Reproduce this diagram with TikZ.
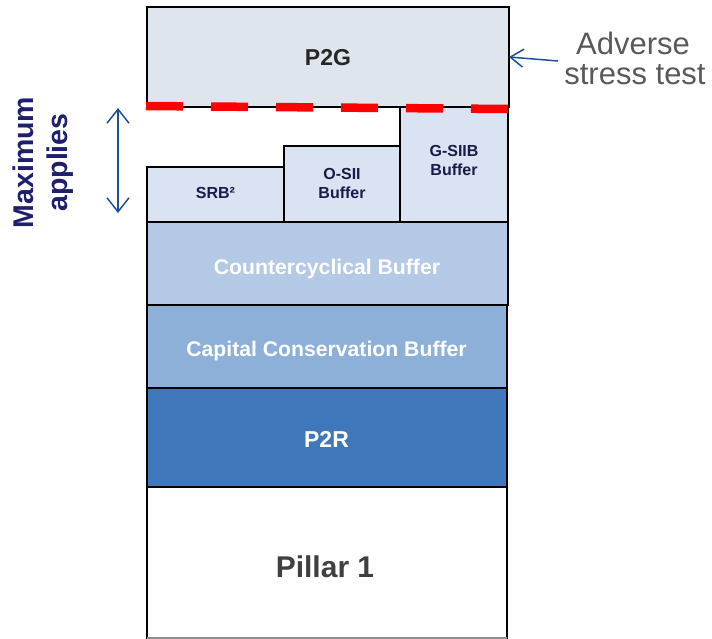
\documentclass[tikz,border=0pt]{standalone}
\usepackage{fontspec}
\setmainfont{Liberation Sans}
\usetikzlibrary{arrows.meta}
\definecolor{cPtwoG}{HTML}{DEE5ED}
\definecolor{cSmall}{HTML}{D9E3F1}
\definecolor{cCCyB}{HTML}{B3C9E5}
\definecolor{cCCB}{HTML}{8DB0D8}
\definecolor{cPtwoR}{HTML}{4077BA}
\definecolor{cDark}{HTML}{262626}
\definecolor{cPone}{HTML}{404040}
\definecolor{cNavy}{HTML}{1B1B4B}
\definecolor{cMax}{HTML}{1F1F6E}
\definecolor{cArr}{HTML}{1F4E9F}
\definecolor{cGrayT}{HTML}{595959}
\begin{document}
\begin{tikzpicture}[x=1pt,y=-1pt,
  layer/.style={draw=black, line width=1.8pt, inner sep=0pt, outer sep=0pt, anchor=north west},
  lbl/.style={anchor=base, inner sep=0pt, outer sep=0pt},
  wlbl/.style={lbl, text=white, font=\bfseries\fontsize{21.2}{25}\selectfont},
  slbl/.style={lbl, text=cNavy, font=\bfseries\fontsize{16}{19}\selectfont},
  blbl/.style={lbl, font=\bfseries\fontsize{23}{27}\selectfont},
  maxlbl/.style={lbl, rotate=90, text=cMax, font=\bfseries\fontsize{28.5}{32}\selectfont},
  advlbl/.style={lbl, text=cGrayT, font=\fontsize{31}{35}\selectfont},
  arr/.style={draw=cArr, line width=1.5pt}
]
\useasboundingbox (0,0) rectangle (712,639);

% layers
\node[layer, fill=cPtwoG, minimum width=362pt, minimum height=100pt] (p2g) at (147,7) {};
\node[layer, fill=cSmall, minimum width=137pt, minimum height=55pt] (srb) at (147,167) {};
\node[layer, fill=cSmall, minimum width=116pt, minimum height=76pt] (osii) at (284,146) {};
\node[layer, fill=cSmall, minimum width=108pt, minimum height=115pt] (gsiib) at (400,107) {};
\node[layer, fill=cCCyB, minimum width=361pt, minimum height=83pt] (ccyb) at (147,222) {};
\node[layer, fill=cCCB, minimum width=360pt, minimum height=83pt] (ccb) at (147,305) {};
\node[layer, fill=cPtwoR, minimum width=360pt, minimum height=99pt] (p2r) at (147,388) {};
\node[layer, fill=white, minimum width=360pt, minimum height=151pt] (p1) at (147,487) {};
\draw[black!45, line width=1.8pt] (p1.south west) -- (p1.south east);

% red dashed line
\coordinate (rl) at (146,106);
\coordinate (rr) at (508,109);
\draw[red, line width=8.5pt, dash pattern=on 37pt off 28pt] (rl) -- (rr);

% texts in layers
\node[blbl, text=cDark] (tp2g) at (328,66) {P2G};
\node[slbl] (tsrb) at (215.5,199) {SRB²};
\node[slbl] (tosii1) at (342,180) {O-SII};
\node[slbl] (tosii2) at (342,199) {Buffer};
\node[slbl] (tgs1) at (454,157) {G-SIIB};
\node[slbl] (tgs2) at (454,176) {Buffer};
\node[wlbl] (tccyb) at (327,274) {Countercyclical Buffer};
\node[wlbl] (tccb) at (326.5,356) {Capital Conservation Buffer};
\node[blbl, text=white] (tp2r) at (326.5,447) {P2R};
\node[lbl, text=cPone, font=\bfseries\fontsize{30}{34}\selectfont] (tp1) at (325,577) {Pillar 1};

% left side
\node[maxlbl] (tmax) at (33,162.5) {Maximum};
\node[maxlbl] (tapp) at (67,162.5) {applies};
\coordinate (dtop) at (118,108);
\coordinate (dbot) at (118,213);
\draw[arr, {Straight Barb[length=14pt,width=22pt]}-{Straight Barb[length=14pt,width=22pt]}] (dtop) -- (dbot);

% right side
\node[advlbl] (tadv) at (633,55) {Adverse};
\node[advlbl] (tst) at (635,85) {stress test};
\coordinate (advs) at (558,61);
\draw[arr, -{Straight Barb[length=13pt,width=18pt]}] (advs) -- (p2g.east);
\end{tikzpicture}
\end{document}
